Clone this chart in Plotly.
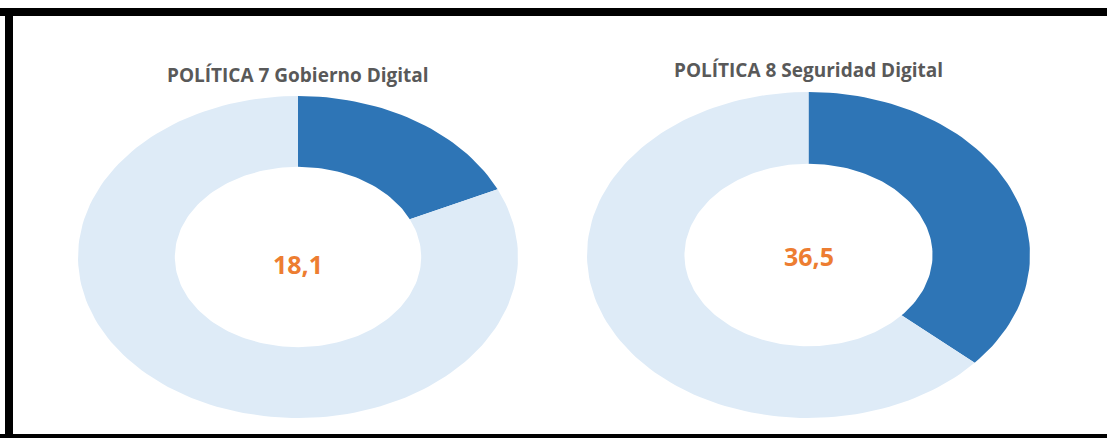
import numpy as np
import plotly.graph_objects as go

# ---- data ----
titles = ["POLÍTICA 7 Gobierno Digital", "POLÍTICA 8 Seguridad Digital"]
avance = [18.1, 36.5]
avance_labels = ["18,1", "36,5"]
restante = [round(100 - v, 1) for v in avance]

# ---- styling / layout constants ----
W, H = 1107, 438
DARK = "#2E75B6"
LIGHT = "#DEEBF7"
ORANGE = "#ED7D31"
TITLE_GRAY = "#595959"
HOLE = 0.56

# donut boxes in pixels: (x0, x1, y_top, y_bottom)
boxes = [(78, 518, 96, 418), (587, 1030, 92, 418)]
title_y_px = [75, 70]
label_y_px = [264, 256]


def ring_segment(start_frac, end_frac, hole, n=200):
    """Polygon for a donut segment; fraction 0 at 12 o'clock, clockwise."""
    k = max(int(n * (end_frac - start_frac)), 4)
    t = np.linspace(start_frac, end_frac, k)
    ang = np.pi / 2 - 2 * np.pi * t
    xo, yo = np.cos(ang), np.sin(ang)
    xi, yi = hole * np.cos(ang[::-1]), hole * np.sin(ang[::-1])
    x = np.concatenate([xo, xi, xo[:1]])
    y = np.concatenate([yo, yi, yo[:1]])
    return x, y


fig = go.Figure()

for i, (val, rest) in enumerate(zip(avance, restante)):
    total = val + rest
    xa = "x" if i == 0 else f"x{i+1}"
    ya = "y" if i == 0 else f"y{i+1}"
    segs = [(0, val / total, DARK, "Avance", val), (val / total, 1, LIGHT, "Restante", rest)]
    for s0, s1, col, name, v in segs:
        x, y = ring_segment(s0, s1, HOLE)
        fig.add_trace(go.Scatter(
            x=x, y=y, mode="lines", fill="toself", fillcolor=col,
            line=dict(width=0, color=col), name=name, showlegend=False,
            hoverinfo="text", text=f"{titles[i]}<br>{name}: {v}",
            xaxis=xa, yaxis=ya,
        ))

layout_axes = {}
for i, (x0, x1, yt, yb) in enumerate(boxes):
    sx = "" if i == 0 else str(i + 1)
    layout_axes[f"xaxis{sx}"] = dict(domain=[x0 / W, x1 / W], range=[-1, 1],
                                     visible=False, fixedrange=True,
                                     anchor=f"y{sx}")
    layout_axes[f"yaxis{sx}"] = dict(domain=[1 - yb / H, 1 - yt / H], range=[-1, 1],
                                     visible=False, fixedrange=True,
                                     anchor=f"x{sx}")

annotations = []
for i, (x0, x1, yt, yb) in enumerate(boxes):
    cx = (x0 + x1) / 2 / W
    annotations.append(dict(
        x=cx, y=1 - title_y_px[i] / H, xref="paper", yref="paper",
        text=f"<b>{titles[i]}</b>", showarrow=False,
        font=dict(family="Open Sans", size=19, color=TITLE_GRAY),
        xanchor="center", yanchor="middle"))
    annotations.append(dict(
        x=cx, y=1 - label_y_px[i] / H, xref="paper", yref="paper",
        text=f"<b>{avance_labels[i]}</b>", showarrow=False,
        font=dict(family="Open Sans", size=25, color=ORANGE),
        xanchor="center", yanchor="middle"))

# black frame (top, left, bottom)
shapes = [
    dict(type="rect", xref="paper", yref="paper", x0=0, x1=1,
         y0=1 - 16 / H, y1=1 - 8 / H, fillcolor="black", line=dict(width=0)),
    dict(type="rect", xref="paper", yref="paper", x0=5 / W, x1=13 / W,
         y0=0, y1=1 - 8 / H, fillcolor="black", line=dict(width=0)),
    dict(type="rect", xref="paper", yref="paper", x0=0, x1=1,
         y0=0, y1=4 / H, fillcolor="black", line=dict(width=0)),
]

fig.update_layout(
    width=W, height=H,
    margin=dict(l=0, r=0, t=0, b=0),
    paper_bgcolor="white", plot_bgcolor="rgba(0,0,0,0)",
    annotations=annotations, shapes=shapes,
    showlegend=False,
    **layout_axes,
)

fig.write_html(
    "out.html",
    config={"displayModeBar": False},
    post_script="document.body.style.margin='0';document.body.style.overflow='hidden';",
)
